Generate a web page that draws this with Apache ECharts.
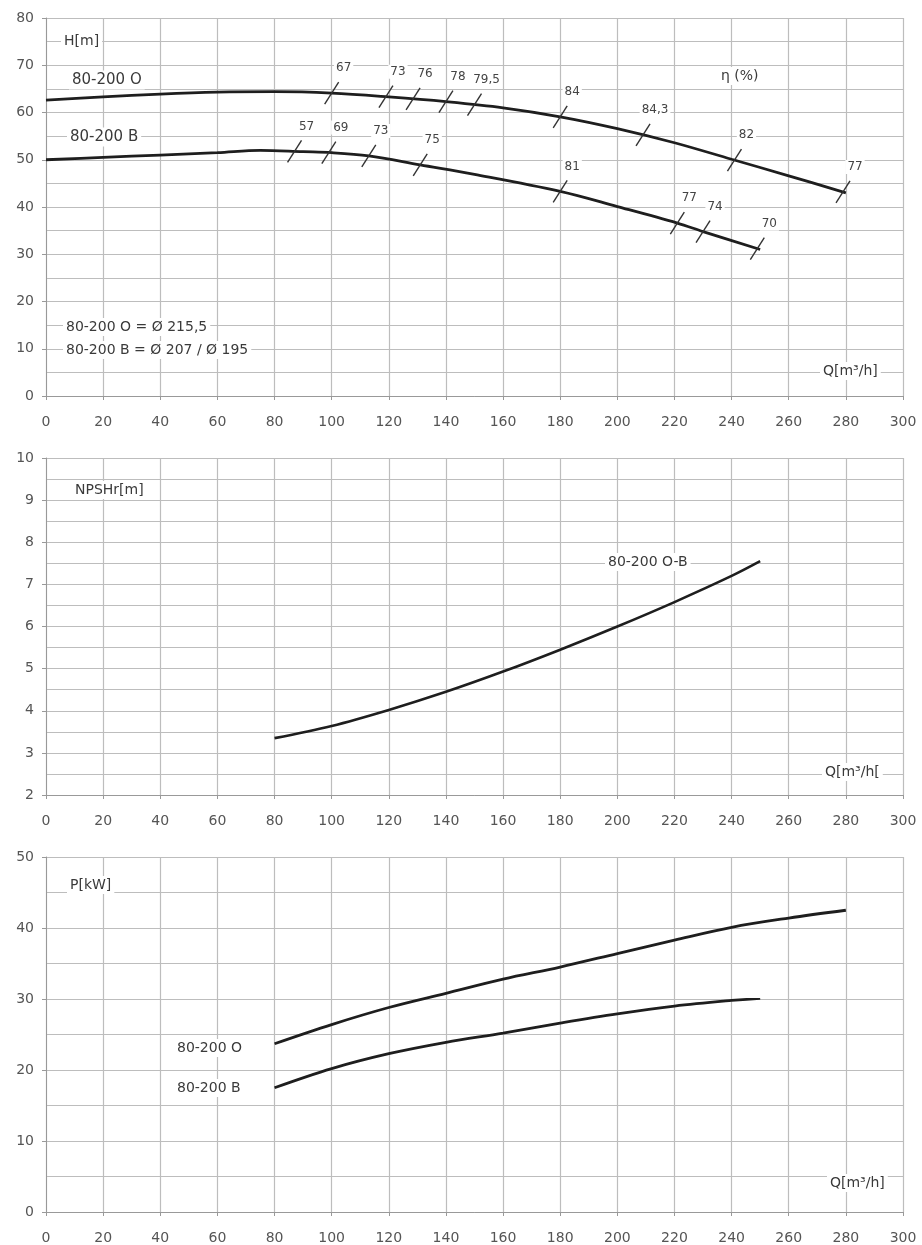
<!DOCTYPE html>
<html><head><meta charset="utf-8">
<script src="https://cdn.jsdelivr.net/npm/echarts@6/dist/echarts.min.js"></script>
<style>html,body{margin:0;padding:0;background:#fff}#c{width:922px;height:1245px}</style>
</head><body><div id="c"></div>
<script>
// ---- tick labels ----
const qTicks = [0,20,40,60,80,100,120,140,160,180,200,220,240,260,280,300];
const hTicks = [0,10,20,30,40,50,60,70,80];
const npshTicks = [2,3,4,5,6,7,8,9,10];
const pTicks = [0,10,20,30,40,50];

// ---- H(Q) curves ----
const headQ_O = [0,20,40,60,80,100,120,140,160,180,200,220,240,260,280];
const head_O  = [62.6,63.3,63.9,64.3,64.4,64.1,63.3,62.3,61.0,59.1,56.6,53.6,50.1,46.6,43.0];
const headQ_B = [0,20,40,60,75,90,100,113,131,150,180,200,221,230,250];
const head_B  = [50.0,50.5,51.0,51.5,52.0,51.7,51.5,50.8,48.9,46.9,43.3,40.1,36.6,34.8,31.0];

// ---- efficiency marks ----
const effQ_O = [100,119,128.5,140,150,180,209,241,279];
const effLabel_O = ['67','73','76','78','79,5','84','84,3','82','77'];
const effQ_B = [87,99,113,131,180,221,230,249];
const effLabel_B = ['57','69','73','75','81','77','74','70'];

// ---- NPSHr ----
const npshQ = [80,100,120,140,160,180,200,220,240,250];
const npsh  = [3.35,3.64,4.02,4.45,4.93,5.45,6.0,6.58,7.2,7.55];

// ---- Power ----
const powerQ_O = [80,100,120,140,160,180,200,220,240,260,280];
const power_O  = [23.7,26.4,28.8,30.8,32.8,34.5,36.4,38.3,40.1,41.4,42.5];
const powerQ_B = [80,100,120,140,160,180,200,220,240,250];
const power_B  = [17.5,20.2,22.3,23.9,25.2,26.6,27.9,29.0,29.8,30.1];

function pairs(xs, ys){ return xs.map((x,i)=>[x, ys[i]]); }
function interp(xs, ys, x){
  for (let i=0;i<xs.length-1;i++){
    if (x>=xs[i] && x<=xs[i+1]) { const t=(x-xs[i])/(xs[i+1]-xs[i]); return ys[i]+t*(ys[i+1]-ys[i]); }
  }
  return ys[ys.length-1];
}

const FONT = '"DejaVu Sans", "Liberation Sans", Arial, sans-serif';
const gridColor = '#bdbdbd';
const labelColor = '#555';

function xAxis(gi){
  return {type:'value', gridIndex:gi, min:0, max:300, interval:20,
    axisLine:{show:true, lineStyle:{color:'#999'}},
    axisTick:{show:true, length:4, lineStyle:{color:'#999'}},
    axisLabel:{color:labelColor, fontSize:14, fontFamily:FONT, margin:19, customValues:qTicks},
    splitLine:{show:true, lineStyle:{color:gridColor, width:1.2}}};
}
function yAxis(gi, min, max, step, ticks){
  return {type:'value', gridIndex:gi, min:min, max:max, interval:step,
    axisLine:{show:true, lineStyle:{color:'#999'}},
    axisTick:{show:true, length:4, lineStyle:{color:'#999'}},
    axisLabel:{color:labelColor, fontSize:14, fontFamily:FONT, margin:12, customValues:ticks},
    splitLine:{show:true, lineStyle:{color:gridColor, width:1.2}},
    minorTick:{show:false, splitNumber:2},
    minorSplitLine:{show:true, lineStyle:{color:gridColor, width:1.2}}};
}

function curve(gi, data){
  return {type:'line', xAxisIndex:gi, yAxisIndex:gi, data:data, smooth:0.35, symbol:'none',
    lineStyle:{color:'#1e1e1e', width:2.8}, silent:true, z:5};
}
function effMarks(qs, labels, cq, ch){
  return {type:'custom', xAxisIndex:0, yAxisIndex:0, z:6, silent:true,
    data: qs.map(q=>[q, interp(cq, ch, q)]),
    renderItem:function(params, api){
      const p = api.coord([api.value(0), api.value(1)]);
      return {type:'group', children:[
        {type:'line', shape:{x1:p[0]-7, y1:p[1]+11, x2:p[0]+7, y2:p[1]-11},
          style:{stroke:'#333', lineWidth:1.4}},
        {type:'text', x:p[0]+12, y:p[1]-25,
          style:{text:labels[params.dataIndex], fill:'#444', font:'12px '+FONT,
            align:'center', verticalAlign:'middle', backgroundColor:'#fff', padding:[1,2]}}
      ]};
    }};
}

function txt(x, y, s, size){
  return {type:'text', x:x, y:y, z:20,
    style:{text:s, fill:'#3a3a3a', font:(size||15)+'px '+FONT, align:'left', verticalAlign:'middle',
      backgroundColor:'#fff', padding:[2,3]}};
}

const option = {
  animation:false,
  backgroundColor:'#fff',
  grid:[
    {left:46, right:19, top:18, height:378},
    {left:46, right:19, top:458, height:337},
    {left:46, right:19, top:857, height:355}
  ],
  xAxis:[xAxis(0), xAxis(1), xAxis(2)],
  yAxis:[yAxis(0,0,80,10,hTicks), yAxis(1,2,10,1,npshTicks), yAxis(2,0,50,10,pTicks)],
  series:[
    curve(0, pairs(headQ_O, head_O)),
    curve(0, pairs(headQ_B, head_B)),
    effMarks(effQ_O, effLabel_O, headQ_O, head_O),
    effMarks(effQ_B, effLabel_B, headQ_B, head_B),
    Object.assign(curve(1, pairs(npshQ, npsh)), {lineStyle:{color:'#1e1e1e', width:2.6}}),
    curve(2, pairs(powerQ_O, power_O)),
    curve(2, pairs(powerQ_B, power_B))
  ],
  graphic:[
    txt(61, 41, 'H[m]', 14),
    txt(69, 80, '80-200 O', 15),
    txt(67, 137, '80-200 B', 15),
    txt(718, 76, 'η (%)', 14),
    txt(63, 327, '80-200 O = Ø 215,5', 14),
    txt(63, 350, '80-200 B = Ø 207 / Ø 195', 14),
    txt(820, 371, 'Q[m³/h]', 14),
    txt(72, 490, 'NPSHr[m]', 14),
    txt(605, 562, '80-200 O-B', 14),
    txt(822, 772, 'Q[m³/h[', 14),
    txt(67, 885, 'P[kW]', 14),
    txt(174, 1048, '80-200 O', 14),
    txt(174, 1088, '80-200 B', 14),
    txt(827, 1183, 'Q[m³/h]', 14)
  ]
};
echarts.init(document.getElementById('c'), null, {renderer:'canvas'}).setOption(option);
</script>
</body></html>
